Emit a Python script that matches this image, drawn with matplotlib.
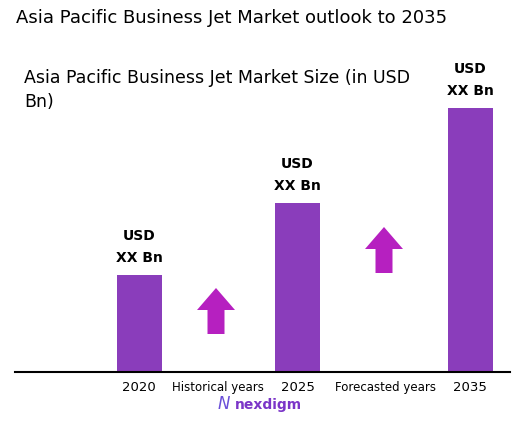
import matplotlib.pyplot as plt
from matplotlib.patches import Polygon

years = ['2020', '2025', '2035']
bar_heights = [97, 169, 264]          # (pixels above baseline)
bar_labels = ['USD\nXX Bn', 'USD\nXX Bn', 'USD\nXX Bn']
period_labels = ['Historical years', 'Forecasted years']

W, H = 526, 423
base = 372
fig = plt.figure(figsize=(W / 100, H / 100), dpi=100)
ax = fig.add_axes([0, (H - base) / H, 1, base / H])
ax.set_xlim(0, W)
ax.set_ylim(0, base)
ax.axis('off')

xs = [139, 297.5, 470]
ax.bar(xs, bar_heights, width=45, color='#8A3DBB')
for x, h, t in zip(xs, bar_heights, bar_labels):
    ax.text(x, h + 10, t, ha='center', va='bottom', fontsize=10,
            fontweight='bold', linespacing=1.7)

ax.plot([15, 510], [0, 0], color='black', lw=1.5, clip_on=False)

def arrow(cx, bottom, top):
    head = top - 22
    pts = [(cx - 8.5, bottom), (cx + 8.5, bottom), (cx + 8.5, head), (cx + 19, head),
           (cx, top), (cx - 19, head), (cx - 8.5, head)]
    ax.add_patch(Polygon(pts, closed=True, color='#B620C0', lw=0))

arrow(216, base - 334, base - 288)
arrow(384, base - 273, base - 227)

fig.text(16 / W, 1 - 18 / H, 'Asia Pacific Business Jet Market outlook to 2035',
         fontsize=13, va='center', ha='left')
fig.text(24 / W, 1 - 90 / H, 'Asia Pacific Business Jet Market Size (in USD\nBn)',
         fontsize=12.5, va='center', ha='left', linespacing=1.4)

for x, t in zip(xs, years):
    fig.text(x / W, 1 - 387 / H, t, ha='center', va='center', fontsize=9.5)
fig.text(218 / W, 1 - 387 / H, period_labels[0], ha='center', va='center', fontsize=8.5)
fig.text(386 / W, 1 - 387 / H, period_labels[1], ha='center', va='center', fontsize=8.5)
fig.text(235 / W, 1 - 405 / H, 'nexdigm', ha='left', va='center', fontsize=10,
         color='#7B35C8', fontweight='bold')
fig.text(224 / W, 1 - 404 / H, 'N', ha='center', va='center', fontsize=12,
         color='#6A4FD8', style='italic')

fig.savefig('out.png', dpi=100)
